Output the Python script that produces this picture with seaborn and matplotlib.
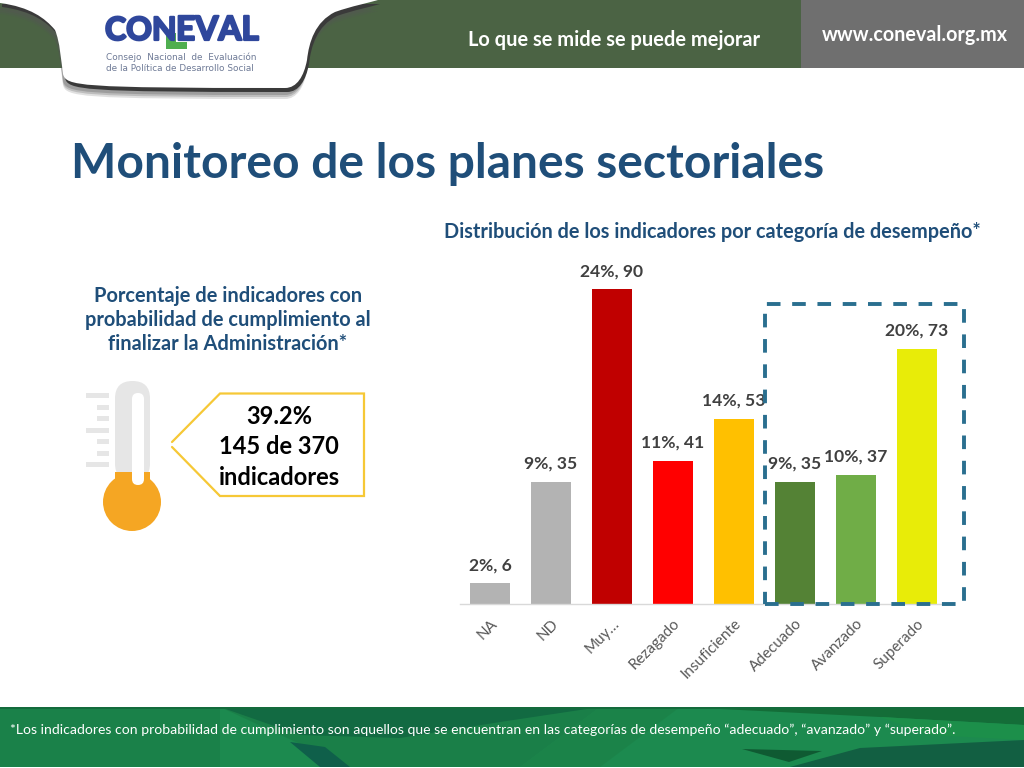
import matplotlib
matplotlib.use("Agg")
import matplotlib.pyplot as plt
import matplotlib.patheffects as pe
import pandas as pd
import seaborn as sns
from matplotlib.patches import Circle, FancyBboxPatch, PathPatch, Polygon, Rectangle
from matplotlib.path import Path

categories = ["NA", "ND", "Muy…", "Rezagado", "Insuficiente", "Adecuado", "Avanzado", "Superado"]
counts = [6, 35, 90, 41, 53, 35, 37, 73]
percents = [2, 9, 24, 11, 14, 9, 10, 20]
bar_colors = ["#b3b3b3", "#b3b3b3", "#c00000", "#ff0000", "#ffc000", "#548235", "#70ad47", "#e8ec08"]

title = "Monitoreo de los planes sectoriales"
chart_title = "Distribución de los indicadores por categoría de desempeño*"
left_title = "Porcentaje de indicadores con\nprobabilidad de cumplimiento al\nfinalizar la Administración*"
callout_lines = ["39.2%", "145 de 370", "indicadores"]
footnote = ("*Los indicadores con probabilidad de cumplimiento son aquellos que se encuentran "
            "en las categorías de desempeño “adecuado”, “avanzado” y “superado”.")

sns.set_theme(style="white")
plt.rcParams["font.family"] = ["Lato", "DejaVu Sans"]

W, H = 1024, 768
fig = plt.figure(figsize=(W / 100, H / 100), dpi=100, facecolor="white")

# background layer in pixel coordinates
bg = fig.add_axes([0, 0, 1, 1])
bg.set_xlim(0, W)
bg.set_ylim(H, 0)
bg.axis("off")

# header
bg.add_patch(Rectangle((0, 0), 801, 68, color="#4b6344", lw=0))
bg.add_patch(Rectangle((801, 0), 223, 68, color="#6f6f6f", lw=0))


def logo_shape(dx=0, dy=0):
    verts = [(0, 0), (0, 3), (30, 7), (45, 18), (55, 30), (60, 42), (61, 60),
             (63, 74), (66, 86), (78, 88), (285, 88), (297, 88), (304, 76), (307, 60),
             (309, 42), (315, 22), (335, 12), (352, 6), (368, 3), (378, 0), (0, 0)]
    codes = [Path.MOVETO, Path.LINETO, Path.CURVE4, Path.CURVE4, Path.CURVE4, Path.CURVE4,
             Path.CURVE4, Path.CURVE4, Path.CURVE4, Path.CURVE4, Path.LINETO, Path.CURVE4,
             Path.CURVE4, Path.CURVE4, Path.CURVE4, Path.CURVE4, Path.CURVE4, Path.CURVE4,
             Path.CURVE4, Path.CURVE4, Path.CLOSEPOLY]
    return Path([(x + dx, y + dy) for x, y in verts], codes)


# soft shadow, then dark rim, then the white tab
for off, alpha in zip([11, 9, 7], [0.18, 0.25, 0.3]):
    bg.add_patch(PathPatch(logo_shape(0, off), fc="#555555", ec="none", alpha=alpha))
bg.add_patch(PathPatch(logo_shape(2, 4), fc="#3a3a3a", ec="none"))
bg.add_patch(PathPatch(logo_shape(), fc="white", ec="none"))

heavy = [pe.withStroke(linewidth=1.6, foreground="#2f479c")]
bg.add_patch(Polygon([(166, 33), (176, 33), (176, 42), (187, 42), (187, 49), (166, 49)], color="#4fae4f", lw=0))
bg.text(105, 40, "CON", color="#2f479c", fontsize=23, fontweight="bold", va="baseline", ha="left",
        path_effects=heavy)
bg.text(176, 40, "EVAL", color="#2f479c", fontsize=24, fontweight="bold", va="baseline", ha="left",
        path_effects=heavy)
bg.text(106, 60, "Consejo  Nacional  de  Evaluación", color="#6e7a96", fontsize=6.4, family="DejaVu Sans", va="baseline")
bg.text(106, 71, "de la Política de Desarrollo Social", color="#6e7a96", fontsize=6.4, family="DejaVu Sans", va="baseline")
bg.text(468, 46, "Lo que se mide se puede mejorar", color="white", fontsize=14.4,
        fontweight="bold", va="baseline")
bg.text(822, 41, "www.coneval.org.mx", color="white", fontsize=14.2, fontweight="bold", va="baseline")

# footer band
bg.add_patch(Rectangle((0, 707), W, 60, color="#1c8a4f", lw=0))
bg.add_patch(Rectangle((0, 707), 220, 60, color="#1a8149", lw=0))
bg.add_patch(Polygon([(220, 707), (600, 707), (520, 767), (350, 767)], color="#1a7f48", lw=0))
bg.add_patch(Polygon([(220, 707), (600, 707), (500, 722), (400, 738), (300, 735)], color="#126a42", lw=0))
bg.add_patch(Polygon([(290, 742), (325, 747), (350, 767), (320, 767)], color="#0f5f4a", lw=0))
bg.add_patch(Polygon([(600, 707), (680, 707), (600, 767), (520, 767)], color="#1b8349", lw=0))
bg.add_patch(Polygon([(680, 707), (1024, 707), (1024, 725), (880, 717)], color="#146d38", lw=0))
bg.add_patch(Polygon([(880, 717), (1024, 725), (1024, 740), (930, 735)], color="#1c8f4a", lw=0))
bg.add_patch(Polygon([(790, 767), (860, 748), (1024, 740), (1024, 767)], color="#125f42", lw=0))
bg.add_patch(Polygon([(742, 749), (822, 751), (789, 762)], color="#0f5a32", lw=0))
bg.add_patch(Rectangle((0, 707), W, 1.5, color="#146b3c", lw=0))
bg.text(10, 734, footnote, color="white", fontsize=10.1, va="baseline")

# headings
bg.text(71, 178, title, color="#1f4e79", fontsize=34.6, fontweight="bold", va="baseline")
bg.text(712.5, 238, chart_title, color="#1f4e79", fontsize=14.3, fontweight="bold", va="baseline", ha="center")
bg.text(228, 320.5, left_title, color="#1f4e79", fontsize=14.4, fontweight="bold", ha="center",
        va="center", linespacing=1.25)

# thermometer
bg.add_patch(FancyBboxPatch((115, 381), 35, 100, boxstyle="round,pad=0,rounding_size=17.5",
                            fc="#e6e6e6", ec="none"))
bg.add_patch(Rectangle((115, 472), 35, 20, color="#f5a623", lw=0))
bg.add_patch(Circle((132, 502), 29, color="#f5a623", lw=0))
bg.add_patch(FancyBboxPatch((132, 393), 12, 92, boxstyle="round,pad=0,rounding_size=6",
                            fc="white", ec="none"))
for y, x0 in zip([395, 407, 418, 430, 441, 453, 464], [86, 97, 97, 86, 97, 97, 86]):
    bg.add_patch(Rectangle((x0, y - 2.5), 109 - x0, 5, color="#e6e6e6", lw=0))

# callout
bg.plot([172, 220, 364, 364, 220, 172], [442, 393.5, 393.5, 496, 496, 447],
        color="#f6c836", lw=1.6, solid_joinstyle="miter")
for y, line in zip([424, 454, 485], callout_lines):
    bg.text(279, y, line, color="black", fontsize=17, fontweight="bold", ha="center", va="baseline")

# bar chart, 61 px per category, baseline at y=604
ax = fig.add_axes([459.5 / W, (H - 604) / H, 488 / W, 350 / H], facecolor="none")
df = pd.DataFrame({"categoria": categories, "indicadores": counts})
sns.barplot(data=df, x="categoria", y="indicadores", hue="categoria", palette=bar_colors,
            width=0.67, legend=False, saturation=1, linewidth=0, ax=ax)
ax.set_xlim(-0.5, 7.5)
ax.set_ylim(0, 100)
ax.set_xlabel("")
ax.set_ylabel("")
ax.set_yticks([])
sns.despine(ax=ax, left=True)
ax.spines["bottom"].set_color("#d9d9d9")
ax.spines["bottom"].set_linewidth(1)
ax.tick_params(axis="x", length=0, pad=9, labelsize=11, labelcolor="#595959")
plt.setp(ax.get_xticklabels(), rotation=45, ha="right", rotation_mode="anchor")

for container, pct, n in zip(ax.containers, percents, counts):
    ax.bar_label(container, labels=[f"{pct}%, {n}"], padding=7, fontsize=12.6,
                 fontweight="bold", color="#404040")

# dashed box over the three top categories
fig.add_artist(Rectangle((765 / W, (H - 604) / H), 199 / W, 300 / H, fill=False, ec="#2a6f8f",
                         lw=2.8, ls=(0, (3.5, 3)), transform=fig.transFigure))

fig.savefig("out.png", dpi=100)
